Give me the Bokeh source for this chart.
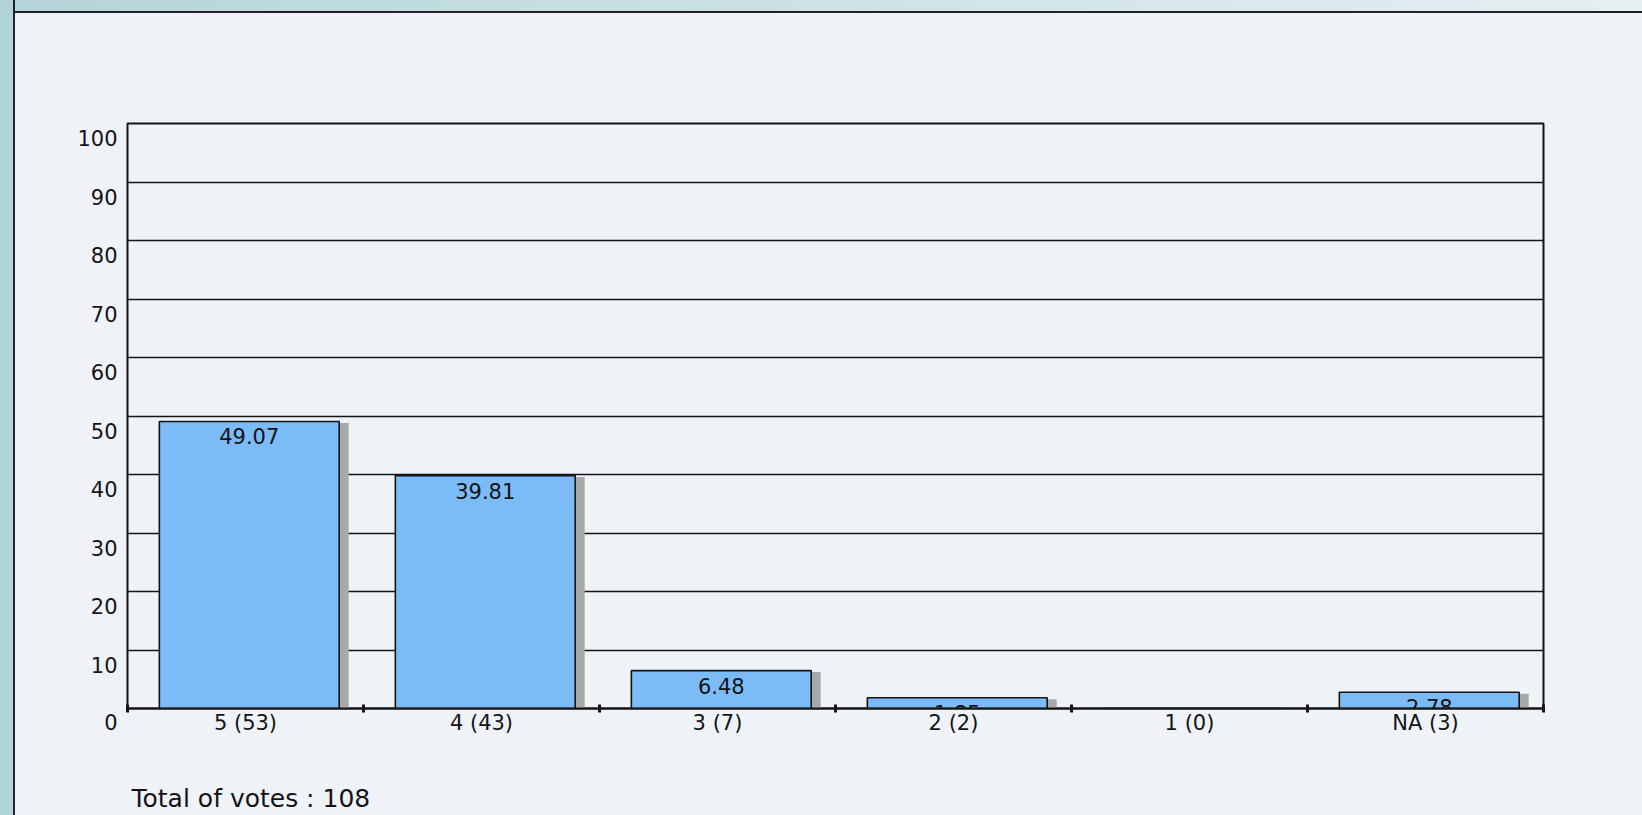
from bokeh.plotting import figure
from bokeh.models import ColumnDataSource, FixedTicker, LinearAxis, Range1d, Title
from bokeh.core.properties import value
from bokeh.embed import file_html
from bokeh.resources import INLINE

# ---------------- data ----------------
ratings = ["5", "4", "3", "2", "1", "NA"]
votes = [53, 43, 7, 2, 0, 3]
percents = [49.07, 39.81, 6.48, 1.85, 0.0, 2.78]
value_labels = ["49.07", "39.81", "6.48", "1.85", "0.00", "2.78"]
y_ticks = [0, 10, 20, 30, 40, 50, 60, 70, 80, 90, 100]
y_tick_labels = ["0", "10", "20", "30", "40", "50", "60", "70", "80", "90", "100"]
total_votes = 108

# ---------------- style ----------------
FONT = "DejaVu Sans"
FS = "21px"
BG = "#eff3f8"
BAR = "#7abbf8"
SHADOW = "#a9a9a9"
INK = "#141414"
TEAL = "#b2d3d7"
NBSP = "\u00a0"

W, H = 1642, 815
B_LEFT, B_RIGHT, B_TOP, B_BOTTOM = 127, 99, 123, 107
FRAME_W, FRAME_H = W - B_LEFT - B_RIGHT, H - B_TOP - B_BOTTOM
n = len(ratings)
PX_X = n / FRAME_W
PX_Y = 100 / FRAME_H
BAR_L, BAR_R = 0.135, 0.897
SH_DX = 9.5 * PX_X
SH_DY = 1.5 * PX_Y
LABEL_DROP = 14.7 * PX_Y   # y tick labels sit just below their grid line

idx = list(range(n))
src = ColumnDataSource(dict(
    left=[i + BAR_L for i in idx],
    right=[i + BAR_R for i in idx],
    top=percents,
    sleft=[i + BAR_L + SH_DX for i in idx],
    sright=[i + BAR_R + SH_DX for i in idx],
    stop=[max(v - SH_DY, 0) for v in percents],
    cx=[i + (BAR_L + BAR_R) / 2 for i in idx],
    label=value_labels,
))

p = figure(width=W, height=H,
           min_border_left=B_LEFT, min_border_right=B_RIGHT,
           min_border_top=B_TOP, min_border_bottom=B_BOTTOM,
           x_range=Range1d(0, n), y_range=Range1d(0, 100),
           output_backend="svg", toolbar_location=None,
           background_fill_color=BG, border_fill_color=BG)
p.border_fill_alpha = 0
p.styles = {
    "background": (
        f"linear-gradient(to right, {TEAL} 0px, {TEAL} 13px, #222 13px, #222 15px, transparent 15px), "
        "linear-gradient(to bottom, transparent 0px, transparent 11px, #222 11px, #222 13px, transparent 13px), "
        "linear-gradient(to right, #b4d5d9, #e6eff2) 0 0 / 100% 11px no-repeat, "
        f"{BG}"),
}

p.outline_line_color = INK
p.outline_line_width = 2

# grid
p.xgrid.visible = False
p.ygrid.ticker = FixedTicker(ticks=y_ticks)
p.ygrid.grid_line_color = INK
p.ygrid.grid_line_width = 1.6

# shadows then bars
p.quad(left="sleft", right="sright", top="stop", bottom=0, source=src,
       fill_color=SHADOW, line_color=None)
p.quad(left="left", right="right", top="top", bottom=0, source=src,
       fill_color=BAR, line_color=INK, line_width=1.6)

# value labels (clipped by the frame as in the original)
p.text(x="cx", y="top", text="label", source=src, y_offset=15,
       text_align="center", text_baseline="middle",
       text_font=value(FONT), text_font_size=FS, text_color=INK)

# y axis: default hidden, labels on a shifted range so they sit below the grid lines
p.yaxis.visible = False
p.extra_y_ranges = {"lab": Range1d(LABEL_DROP, 100.001 + LABEL_DROP)}
lab_axis = LinearAxis(y_range_name="lab", ticker=FixedTicker(ticks=y_ticks[1:]),
                      major_label_overrides={t: s for t, s in zip(y_ticks[1:], y_tick_labels[1:])},
                      axis_line_color=None, major_tick_line_color=None,
                      minor_tick_line_color=None, major_tick_out=0, major_tick_in=0,
                      major_label_standoff=10,
                      major_label_text_font=FONT, major_label_text_font_size=FS,
                      major_label_text_color=INK)
p.add_layout(lab_axis, "left")

# x axis: labels at category centres, ticks at boundaries;
# the y-axis "0" sits at the corner, in line with the category labels
xa = p.xaxis[0]
xa.ticker = FixedTicker(ticks=[0] + [i + 0.5 for i in idx], minor_ticks=list(range(n + 1)))
overrides = {0: y_tick_labels[0] + NBSP * 5}
overrides.update({i + 0.5: f"{r} ({v})" for i, r, v in zip(idx, ratings, votes)})
xa.major_label_overrides = overrides
xa.major_tick_line_color = None
xa.major_tick_out = 0
xa.major_tick_in = 0
xa.minor_tick_line_color = INK
xa.minor_tick_line_width = 3
xa.minor_tick_in = 4
xa.minor_tick_out = 4
xa.axis_line_width = 2.2
xa.axis_line_color = INK
xa.major_label_standoff = -2
xa.major_label_text_font = FONT
xa.major_label_text_font_size = FS
xa.major_label_text_color = INK
# spacer under the category labels
xa.axis_label = NBSP
xa.axis_label_text_font_size = "1px"
xa.axis_label_standoff = 40

# total of votes, under the axis
p.add_layout(Title(text=f"Total of votes : {total_votes}", align="left", offset=4,
                   standoff=0, text_font=FONT, text_font_size="25px",
                   text_font_style="normal", text_color=INK), "below")

open("out.html", "w").write(file_html(p, INLINE))
